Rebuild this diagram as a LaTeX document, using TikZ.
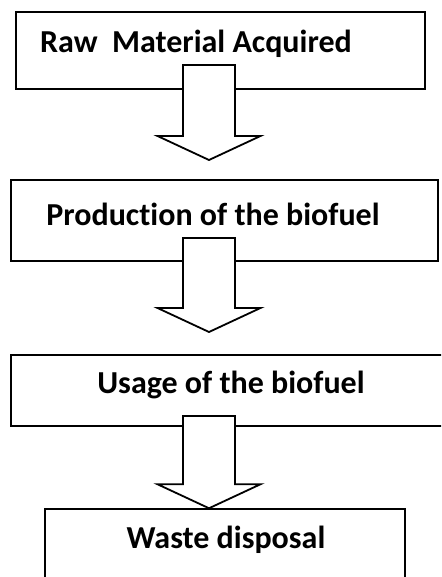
\documentclass[tikz,border=0pt]{standalone}
\usepackage{fontspec}
\setmainfont{Carlito}[Ligatures=NoCommon]
\usetikzlibrary{calc}
\tikzset{
  box/.style={draw=black, line width=1.5pt, fill=white, rectangle, inner sep=0pt},
  lbl/.style={font=\bfseries\fontsize{32}{36}\selectfont, inner sep=0pt, anchor=base},
  blockarrow/.style={draw=black, line width=1.8pt, fill=white, line join=miter},
}
\newcommand{\myblockarrow}[2]{%
  \draw[blockarrow] ($(#1)+(-26,0)$) -- ($(#2)+(-26,-24)$) -- ($(#2)+(-51.5,-24)$) -- (#2)
    -- ($(#2)+(51.5,-24)$) -- ($(#2)+(26,-24)$) -- ($(#1)+(26,0)$) -- cycle;}
\begin{document}
\begin{tikzpicture}[x=1pt,y=-1pt]
\useasboundingbox (0,0) rectangle (441,577);
\clip (0,0) rectangle (441,577);
% boxes
\node[box, minimum width=409pt, minimum height=77pt] (b1) at (220.5,50.5) {};
\node[box, minimum width=427pt, minimum height=81pt] (b2) at (224.5,220.5) {};
\node[box, minimum width=470pt, minimum height=71pt] (b3) at (246,390.5) {};
\node[box, minimum width=360pt, minimum height=100pt] (b4) at (225,559) {};
% labels
\node[lbl] (t1) at (196,53) {Raw~~Material Acquired};
\node[lbl] (t2) at (213,225) {Production of the biofuel};
\node[lbl] (t3) at (231,393) {Usage of the biofuel};
\node[lbl] (t4) at (226,548) {Waste disposal};
% arrows
\coordinate (a1s) at (209,65);
\coordinate (a1e) at (209,160);
\coordinate (a2s) at (209,238);
\coordinate (a2e) at (209,332);
\coordinate (a3s) at (209,416);
\coordinate (a3e) at (b4.north -| 209,0);
\myblockarrow{a1s}{a1e}
\myblockarrow{a2s}{a2e}
\myblockarrow{a3s}{a3e}
\end{tikzpicture}
\end{document}
